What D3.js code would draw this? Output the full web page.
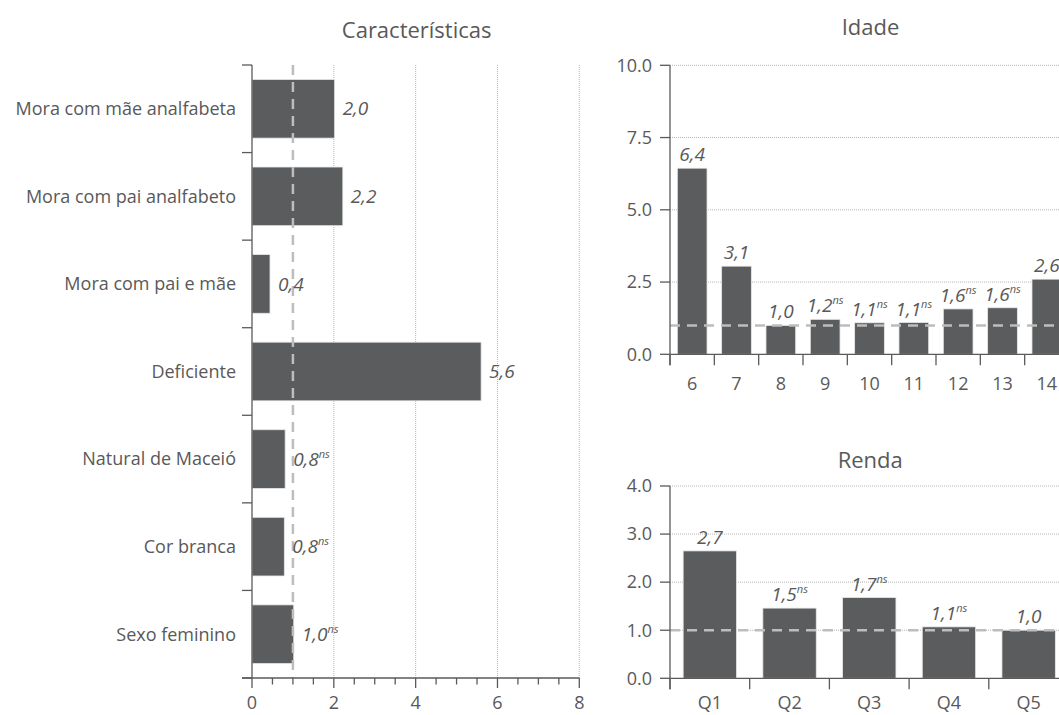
<!DOCTYPE html>
<html><head><meta charset="utf-8">
<script src="https://cdn.jsdelivr.net/npm/d3@7"></script>
<style>
body{margin:0;background:#fff;}
svg{display:block;font-family:"Open Sans",sans-serif;}
</style></head>
<body>
<svg id="c" width="1059" height="715"></svg>
<script>
const charCategories = ["Mora com mãe analfabeta","Mora com pai analfabeto","Mora com pai e mãe","Deficiente","Natural de Maceió","Cor branca","Sexo feminino"];
const charValues = [2.02, 2.22, 0.44, 5.6, 0.81, 0.79, 1.02];
const charLabels = ["2,0","2,2","0,4","5,6","0,8","0,8","1,0"];
const charNs = [false,false,false,false,true,true,true];
const charTicks = [0,2,4,6,8];

const ageCategories = ["6","7","8","9","10","11","12","13","14"];
const ageValues = [6.44, 3.05, 1.0, 1.21, 1.09, 1.1, 1.57, 1.61, 2.6];
const ageLabels = ["6,4","3,1","1,0","1,2","1,1","1,1","1,6","1,6","2,6"];
const ageNs = [false,false,false,true,true,true,true,true,false];
const ageTicks = [0,2.5,5,7.5,10];

const incomeCategories = ["Q1","Q2","Q3","Q4","Q5"];
const incomeValues = [2.65, 1.46, 1.68, 1.07, 1.0];
const incomeLabels = ["2,7","1,5","1,7","1,1","1,0"];
const incomeNs = [false,true,true,true,false];
const incomeTicks = [0,1,2,3,4];

const refValue = 1;

const BAR = "#5b5c5e", TXT = "#595959", AX = "#5a5a5a", GRID = "#b5b5b5", REF = "#bdbdbd";
const FS = 18, VFS = 19, TFS = 22;
const svg = d3.select("#c");

function valueText(sel, label, ns){
  sel.append("tspan").text(label);
  if(ns) sel.append("tspan").attr("font-size",11).attr("dy",-8).text("ns");
}

// ---------- Características (horizontal) ----------
(function(){
  const x = d3.scaleLinear().domain([0,8]).range([252,579.3]);
  const y = d3.scaleBand().domain(charCategories).range([65,678]).paddingInner(0.33).paddingOuter(0.165);
  const g = svg.append("g");
  const [y0,y1] = y.range();
  const step = y.step();
  g.selectAll(".grid").data(charTicks.filter(d=>d>0)).join("line")
    .attr("x1",d=>x(d)).attr("x2",d=>x(d)).attr("y1",y0).attr("y2",y1)
    .attr("stroke",GRID).attr("stroke-width",1).attr("stroke-dasharray","1,1");
  g.selectAll(".bar").data(charCategories).join("rect")
    .attr("x",x(0)).attr("y",d=>y(d)).attr("height",y.bandwidth())
    .attr("width",(d,i)=>x(charValues[i])-x(0)).attr("fill",BAR)
    .attr("stroke","#e8e8e8").attr("stroke-width",0.8);
  g.append("line").attr("x1",x(refValue)).attr("x2",x(refValue)).attr("y1",y0).attr("y2",y1)
    .attr("stroke",REF).attr("stroke-width",2.5).attr("stroke-dasharray","10,7");
  charCategories.forEach((c,i)=>{
    const t = g.append("text").attr("x",x(charValues[i])+8).attr("y",y(c)+y.bandwidth()/2)
      .attr("dy","0.35em").attr("font-size",VFS).attr("font-style","italic").attr("fill",TXT);
    valueText(t,charLabels[i],charNs[i]);
  });
  g.append("line").attr("x1",x(0)).attr("x2",x(0)).attr("y1",y0).attr("y2",y1).attr("stroke",AX).attr("stroke-width",1.3);
  const bounds = d3.range(charCategories.length+1).map(i=>y0+i*step);
  g.selectAll(".yt").data(bounds).join("line").attr("x1",x(0)-10).attr("x2",x(0)).attr("y1",d=>d).attr("y2",d=>d)
    .attr("stroke",AX).attr("stroke-width",1.3);
  g.selectAll(".yl").data(charCategories).join("text").attr("x",x(0)-16).attr("y",d=>y(d)+y.bandwidth()/2)
    .attr("dy","0.35em").attr("text-anchor","end").attr("font-size",FS).attr("fill",TXT).text(d=>d);
  g.append("line").attr("x1",x(0)-10).attr("x2",x(8)).attr("y1",y1).attr("y2",y1).attr("stroke",AX).attr("stroke-width",1.3);
  const minor = d3.range(0,8.01,0.5);
  g.selectAll(".xt").data(minor).join("line").attr("x1",d=>x(d)).attr("x2",d=>x(d)).attr("y1",y1)
    .attr("y2",d=>y1+(d%2===0?10:6.5)).attr("stroke",AX).attr("stroke-width",1.3);
  g.selectAll(".xl").data(charTicks).join("text").attr("x",d=>x(d)).attr("y",y1+25)
    .attr("dy","0.35em").attr("text-anchor","middle").attr("font-size",FS).attr("fill",TXT).text(d=>d);
  g.append("text").attr("x",(x(0)+x(8))/2+1).attr("y",30).attr("dy","0.35em").attr("text-anchor","middle")
    .attr("font-size",TFS).attr("fill",TXT).text("Características");
})();

// ---------- vertical panels ----------
function vpanel(opts){
  const {cats, vals, labels, ns, ticks, yDomain, yRange, xRange, title, titleY, labelOff} = opts;
  const x = d3.scaleBand().domain(cats).range(xRange).paddingInner(0.33).paddingOuter(0.165);
  const y = d3.scaleLinear().domain(yDomain).range(yRange);
  const g = svg.append("g");
  const left = xRange[0];
  g.selectAll(".grid").data(ticks.filter(d=>d>0)).join("line")
    .attr("x1",left).attr("x2",1059).attr("y1",d=>y(d)).attr("y2",d=>y(d))
    .attr("stroke",GRID).attr("stroke-width",1).attr("stroke-dasharray","1,1");
  g.selectAll(".bar").data(cats).join("rect")
    .attr("x",d=>x(d)).attr("width",x.bandwidth())
    .attr("y",(d,i)=>y(vals[i])).attr("height",(d,i)=>y(0)-y(vals[i])).attr("fill",BAR)
    .attr("stroke","#e8e8e8").attr("stroke-width",0.8);
  g.append("line").attr("x1",left).attr("x2",1059).attr("y1",y(refValue)).attr("y2",y(refValue))
    .attr("stroke",REF).attr("stroke-width",2.5).attr("stroke-dasharray","10,7");
  cats.forEach((c,i)=>{
    const t = g.append("text").attr("x",x(c)+x.bandwidth()/2).attr("y",y(vals[i])-7)
      .attr("text-anchor","middle").attr("font-size",VFS).attr("font-style","italic").attr("fill",TXT);
    valueText(t,labels[i],ns[i]);
  });
  g.append("line").attr("x1",left).attr("x2",left).attr("y1",y(yDomain[1])).attr("y2",y(0)+11).attr("stroke",AX).attr("stroke-width",1.3);
  g.selectAll(".yt").data(ticks).join("line").attr("x1",left-10).attr("x2",left).attr("y1",d=>y(d)).attr("y2",d=>y(d))
    .attr("stroke",AX).attr("stroke-width",1.3);
  g.selectAll(".yl").data(ticks).join("text").attr("x",left-18).attr("y",d=>y(d)).attr("dy","0.35em")
    .attr("text-anchor","end").attr("font-size",FS).attr("fill",TXT).text(d=>d3.format(".1f")(d));
  g.append("line").attr("x1",left).attr("x2",1059).attr("y1",y(0)).attr("y2",y(0)).attr("stroke",AX).attr("stroke-width",1.3);
  const bounds = d3.range(cats.length+1).map(i=>xRange[0]+i*x.step());
  g.selectAll(".xt").data(bounds).join("line").attr("x1",d=>d).attr("x2",d=>d).attr("y1",y(0)).attr("y2",y(0)+11)
    .attr("stroke",AX).attr("stroke-width",1.3);
  g.selectAll(".xl").data(cats).join("text").attr("x",d=>x(d)+x.bandwidth()/2).attr("y",y(0)+labelOff).attr("dy","0.35em")
    .attr("text-anchor","middle").attr("font-size",FS).attr("fill",TXT).text(d=>d);
  g.append("text").attr("x",(xRange[0]+xRange[1])/2+1).attr("y",titleY).attr("dy","0.35em").attr("text-anchor","middle")
    .attr("font-size",TFS).attr("fill",TXT).text(title);
}

vpanel({cats:ageCategories, vals:ageValues, labels:ageLabels, ns:ageNs, ticks:ageTicks,
  yDomain:[0,10], yRange:[354.3,65.3], xRange:[670,1069], title:"Idade", titleY:27, labelOff:29});
vpanel({cats:incomeCategories, vals:incomeValues, labels:incomeLabels, ns:incomeNs, ticks:incomeTicks,
  yDomain:[0,4], yRange:[678.3,486], xRange:[670,1068.5], title:"Renda", titleY:460, labelOff:24});
</script>
</body></html>
